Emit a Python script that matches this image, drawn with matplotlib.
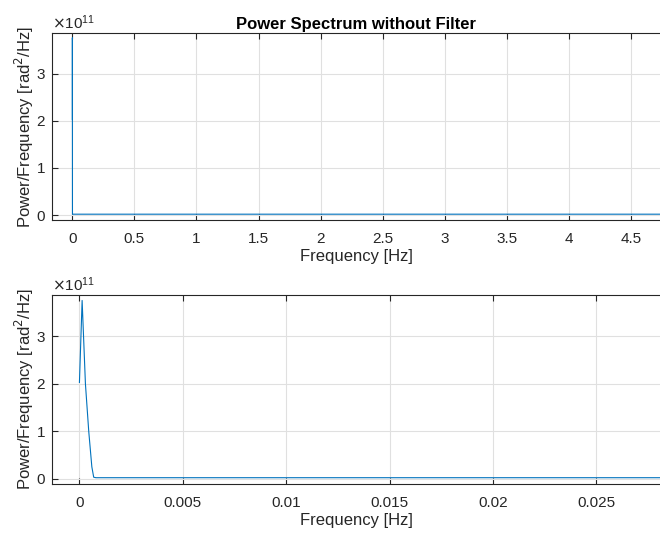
import matplotlib
matplotlib.use("Agg")
import matplotlib.pyplot as plt
from matplotlib.ticker import FuncFormatter, ScalarFormatter

plt.rcParams['font.family'] = ['Liberation Sans', 'DejaVu Sans']

# spectrum (frequency in Hz, power in rad^2/Hz)
freq = [0, 0.00013, 0.00029, 0.00045, 0.0006, 0.00069, 0.0008, 0.002, 0.01, 0.03, 1.0, 4.74]
power = [2.03e11, 3.76e11, 2.0e11, 1.0e11, 0.25e11, 0.03e11, 0.02e11, 0.02e11,
         0.02e11, 0.02e11, 0.02e11, 0.02e11]

top_xticks = [0, 0.5, 1, 1.5, 2, 2.5, 3, 3.5, 4, 4.5]
bottom_xticks = [0, 0.005, 0.01, 0.015, 0.02, 0.025]
yticks = [0, 1e11, 2e11, 3e11]

title = "Power Spectrum without Filter"
xlabel = "Frequency [Hz]"
ylabel = "Power/Frequency [rad$^2$/Hz]"

line_color = "#0072BD"
axis_color = "#262626"
grid_color = "#e0e0e0"

fig = plt.figure(figsize=(6.6, 5.33), dpi=100)
ax1 = fig.add_axes([0.079, 0.587, 0.921, 0.351])
ax2 = fig.add_axes([0.079, 0.092, 0.921, 0.355])


def style(ax, xticks, xlim, ylim):
    ax.plot(freq, power, color=line_color, lw=0.8)
    ax.set_xlim(*xlim)
    ax.set_ylim(*ylim)
    ax.set_xticks(xticks)
    ax.set_yticks(yticks)
    ax.xaxis.set_major_formatter(FuncFormatter(lambda v, p: "%g" % v))
    fmt = ScalarFormatter(useMathText=True)
    fmt.set_powerlimits((0, 0))
    ax.yaxis.set_major_formatter(fmt)
    ax.yaxis.get_offset_text().set_fontsize(11)
    ax.yaxis.get_offset_text().set_color("#555555")
    ax.grid(True, color=grid_color, lw=0.8)
    ax.set_axisbelow(True)
    ax.spines['right'].set_visible(False)
    for s in ['top', 'bottom', 'left']:
        ax.spines[s].set_color(axis_color)
        ax.spines[s].set_linewidth(0.8)
    ax.tick_params(direction='in', top=True, right=False, length=4,
                   labelsize=11, colors=axis_color, width=0.8)
    ax.tick_params(axis='x', pad=8.5)
    ax.tick_params(axis='y', pad=4.5)
    ax.set_xlabel(xlabel, fontsize=12, color=axis_color, labelpad=2)
    ax.set_ylabel(ylabel, fontsize=12, color=axis_color, labelpad=0)


style(ax1, top_xticks, (-0.163, 4.735), (-0.106e11, 3.86e11))
style(ax2, bottom_xticks, (-0.00132, 0.02808), (-0.112e11, 3.88e11))

ax1.set_title(title, fontsize=12, fontweight='bold', color='black', y=1.0, pad=3)

fig.savefig("out.png", dpi=100)
